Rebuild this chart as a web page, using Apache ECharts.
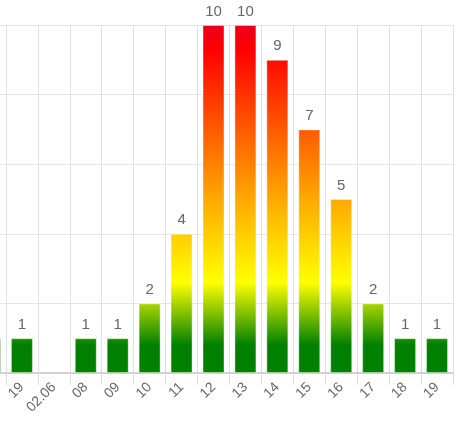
<!DOCTYPE html>
<html>
<head>
<meta charset="utf-8">
<script src="https://cdn.jsdelivr.net/npm/echarts@6/dist/echarts.min.js"></script>
<style>
  html, body { margin: 0; padding: 0; background: #fff; }
  #chart { width: 467px; height: 432px; }
</style>
</head>
<body>
<div id="chart"></div>
<script>
// categories (first one is cut off at the left edge of the picture)
const days = ['18', '19', '02.06', '08', '09', '10', '11', '12', '13', '14', '15', '16', '17', '18', '19']
const counts = [1, 1, null, 1, 1, 2, 4, 10, 10, 9, 7, 5, 2, 1, 1]
const yTicks = [0, 2, 4, 6, 8, 10]

const gridTop = 25
const gridBottom = 59
const chartH = 432

const chart = echarts.init(document.getElementById('chart'))

// gradient fixed to the plot area, so colour follows the value, not the bar
const barFill = new echarts.graphic.LinearGradient(0, chartH - gridBottom, 0, gridTop, [
  { offset: 0, color: '#008000' },
  { offset: 0.08, color: '#008000' },
  { offset: 0.17, color: '#80c000' },
  { offset: 0.26, color: '#ffff00' },
  { offset: 0.45, color: '#ffbb00' },
  { offset: 0.67, color: '#ff6600' },
  { offset: 0.93, color: '#ff0000' },
  { offset: 1, color: '#e8001c' },
], true)

chart.setOption({
  animation: false,
  textStyle: { fontFamily: 'Liberation Sans, Arial, sans-serif' },
  grid: { top: gridTop, bottom: gridBottom, left: -26, right: 14, outerBoundsMode: 'none', containLabel: false },
  xAxis: {
    type: 'category',
    data: days,
    axisLine: { lineStyle: { color: '#c8c8c8', width: 1.5 } },
    axisTick: { show: true, length: 12, interval: 0, lineStyle: { color: '#dedede' } },
    splitLine: { show: true, interval: 0, lineStyle: { color: '#e0e0e0' } },
    axisLabel: { rotate: 45, interval: 0, color: '#666', fontSize: 14, margin: 12 },
  },
  yAxis: {
    type: 'value',
    min: yTicks[0],
    max: yTicks[yTicks.length - 1],
    interval: 2,
    axisLine: { show: false },
    axisTick: { show: false },
    axisLabel: { show: false },
    splitLine: { lineStyle: { color: '#e6e6e6' } },
  },
  series: [{
    type: 'bar',
    data: counts,
    barWidth: 22,
    itemStyle: {
      color: barFill,
      borderColor: 'rgba(255,255,255,0.4)',
      borderWidth: 1,
    },
    label: {
      show: true,
      position: 'top',
      distance: 6,
      color: '#666',
      fontSize: 15,
    },
  }],
})
</script>
</body>
</html>
